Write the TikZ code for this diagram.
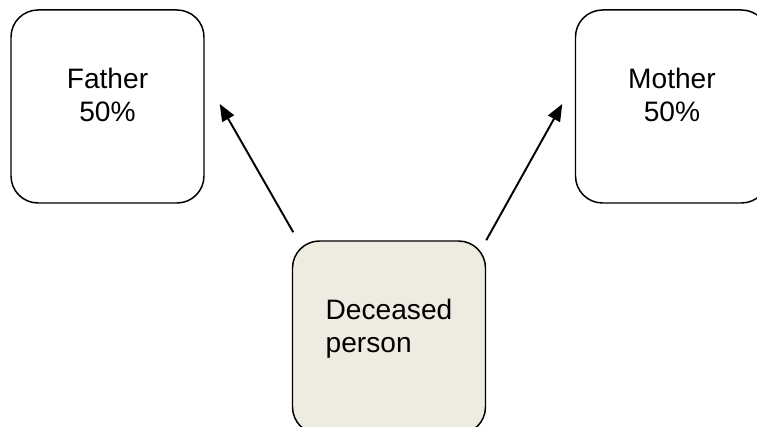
\documentclass[tikz,border=0pt]{standalone}
\usepackage{fontspec}
\setmainfont{Liberation Sans}
\usepackage{xcolor}
\usepackage{tikz}
\usetikzlibrary{arrows.meta}

\definecolor{boxfill}{HTML}{EEECE1}

\begin{document}
\begin{tikzpicture}[
    box/.style={draw, line width=0.85pt, rounded corners=0.54cm,
      minimum width=3.86cm, minimum height=3.86cm, inner sep=0pt,
      font=\fontsize{16}{18.8}\selectfont, text depth=0.45cm},
    link/.style={line width=1.1pt, -{Triangle[length=0.34cm,width=0.27cm]}}
  ]
  \useasboundingbox (0,0) rectangle (15.14,8.54);
  % Parents
  \node[box, align=center] (father) at (2.15,6.41) {Father\\50\%};
  \node[box, align=center] (mother) at (13.44,6.41) {Mother\\50\%};
  % Deceased
  \node[box, fill=boxfill, align=left] (deceased) at (7.78,1.79) {Deceased\\person};
  % Shares going up
  \draw[link] ([xshift=0.03cm,yshift=0.16cm]deceased.north west) -- ([xshift=0.3cm,yshift=0.05cm]father.east);
  \draw[link] (deceased.north east) -- ([xshift=-0.25cm,yshift=0.05cm]mother.west);
\end{tikzpicture}
\end{document}
